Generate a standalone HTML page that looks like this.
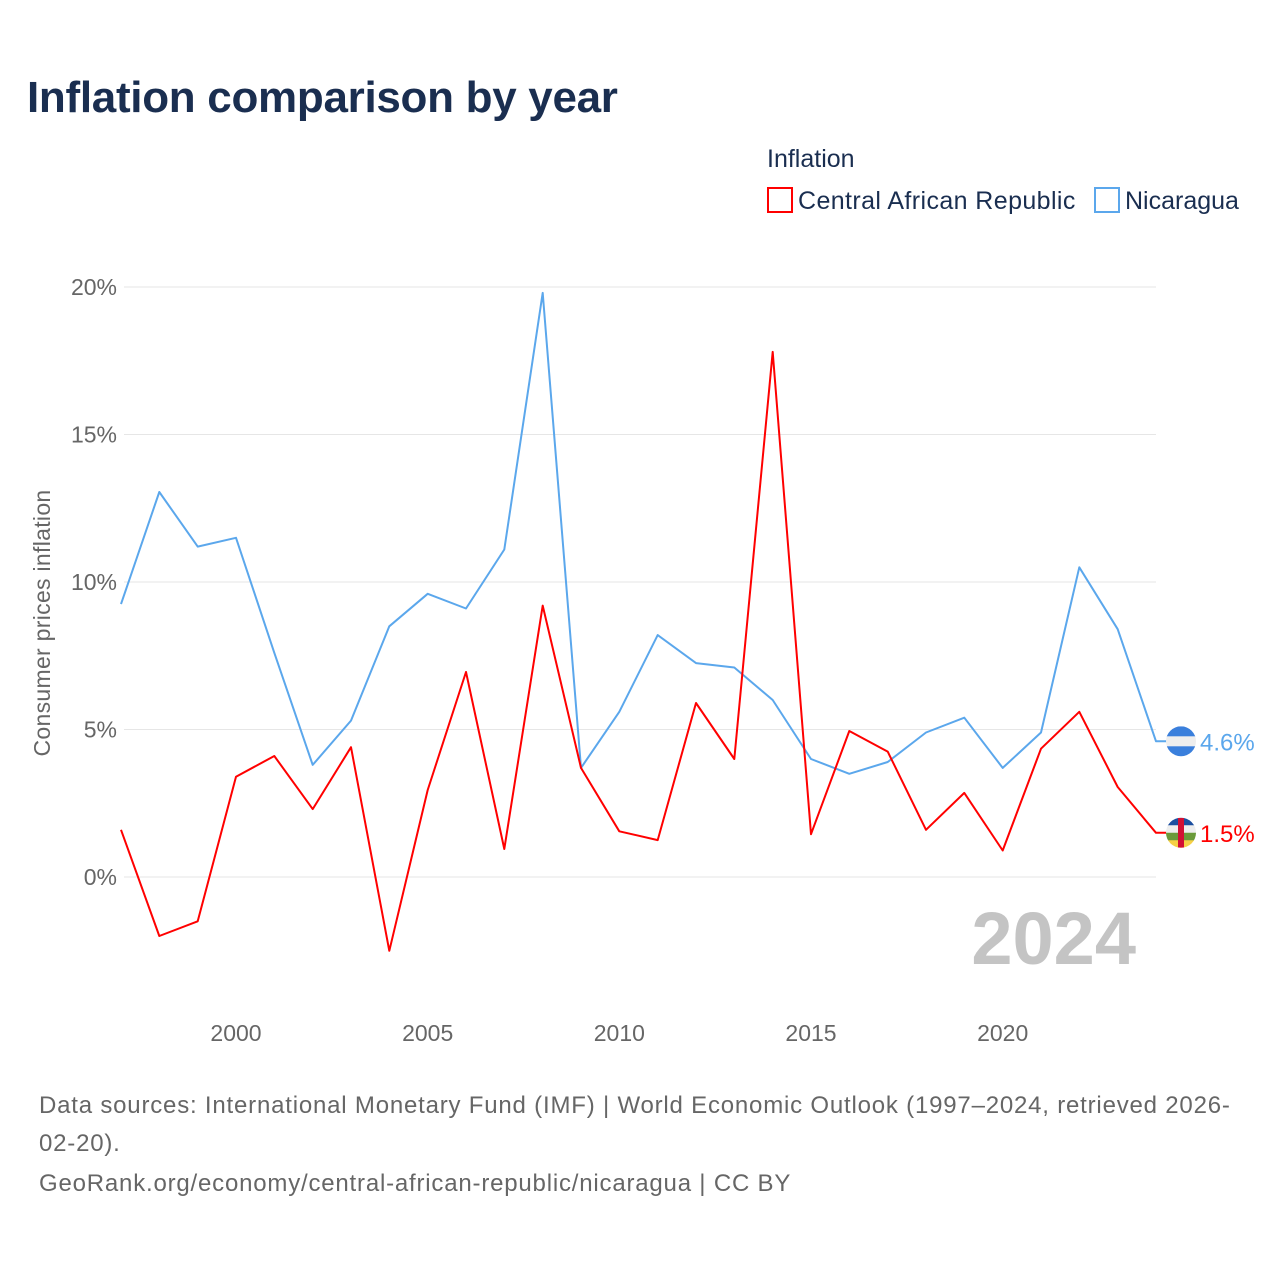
<!DOCTYPE html>
<html><head><meta charset="utf-8"><style>
body{margin:0;background:#fff;font-family:"Liberation Sans",sans-serif;}
svg text{font-family:"Liberation Sans",sans-serif;}
</style></head><body>
<svg width="1280" height="1280" viewBox="0 0 1280 1280">
<text x="27" y="112" font-size="44" font-weight="bold" fill="#1a2e50" letter-spacing="-0.3">Inflation comparison by year</text>
<text x="767" y="167" font-size="25" fill="#1a2e50">Inflation</text>
<g><rect x="768" y="188" width="24" height="24" fill="none" stroke="#f00" stroke-width="2"/><text x="798" y="209" font-size="25" fill="#1a2e50" letter-spacing="0.4">Central African Republic</text></g>
<g><rect x="1095" y="188" width="24" height="24" fill="none" stroke="#5ba7ec" stroke-width="2"/><text x="1125" y="209" font-size="25" fill="#1a2e50">Nicaragua</text></g>
<g id="grid"></g><g id="xt"></g><g id="lines"></g>
<text transform="translate(50,623) rotate(-90)" text-anchor="middle" font-size="23" fill="#666" letter-spacing="0.3">Consumer prices inflation</text>
<text x="1136" y="964" text-anchor="end" font-size="74" font-weight="bold" fill="#c4c4c4">2024</text>
<g font-size="24" fill="#666" letter-spacing="0.8">
<text x="39" y="1113">Data sources: International Monetary Fund (IMF) | World Economic Outlook (1997–2024, retrieved 2026-</text>
<text x="39" y="1151">02-20).</text>
<text x="39" y="1191">GeoRank.org/economy/central-african-republic/nicaragua | CC BY</text>
</g>
</svg>
<script>
const years=[1997,1998,1999,2000,2001,2002,2003,2004,2005,2006,2007,2008,2009,2010,2011,2012,2013,2014,2015,2016,2017,2018,2019,2020,2021,2022,2023,2024];
const nicaragua=[9.25,13.05,11.2,11.5,7.6,3.8,5.3,8.5,9.6,9.1,11.1,19.8,3.7,5.6,8.2,7.25,7.1,6.0,4.0,3.5,3.9,4.9,5.4,3.7,4.9,10.5,8.4,4.6];
const car=[1.6,-2.0,-1.5,3.4,4.1,2.3,4.4,-2.5,2.95,6.95,0.95,9.2,3.7,1.55,1.25,5.9,4.0,17.8,1.45,4.95,4.25,1.6,2.85,0.9,4.35,5.6,3.05,1.5];
const yTicks=[0,5,10,15,20];
const xTicks=[2000,2005,2010,2015,2020];
const NS="http://www.w3.org/2000/svg";
const X=y=>121+(y-1997)*(1156-121)/27;
const Y=v=>877-v*29.5;
function mk(t,a,p){const e=document.createElementNS(NS,t);for(const k in a)e.setAttribute(k,a[k]);p.appendChild(e);return e;}
const g=document.getElementById('grid');
yTicks.forEach(v=>{
 const l=mk('line',{x1:124,x2:1156,y1:Y(v),y2:Y(v),stroke:'#e6e6e6','stroke-width':1},g);
 
 
 const t=mk('text',{x:117,y:Y(v)+8,'text-anchor':'end','font-size':23,fill:'#666'},g);t.textContent=v+'%';
 
 
});
const xt=document.getElementById('xt');
xTicks.forEach(v=>{
 const t=mk('text',{x:X(v),y:1041,'text-anchor':'middle','font-size':23,fill:'#666'},xt);t.textContent=v;
 
 
});
const L=document.getElementById('lines');
function series(vals,col,name,label,flag){
 const d=vals.map((v,i)=>(i?'L':'M')+X(years[i]).toFixed(1)+' '+Y(v).toFixed(1)).join(' ')+' L1167 '+Y(vals[vals.length-1]).toFixed(1);
 const p=mk('path',{d:d,fill:'none',stroke:col,'stroke-width':2,'stroke-linejoin':'round'},L);
 
 
 const yy=Y(vals[vals.length-1]);
 const fg=mk('g',{},L);
 
 
 mk('clipPath',{id:'c'+name},fg).appendChild(document.createElementNS(NS,'circle'));
 const cc=fg.querySelector('circle');cc.setAttribute('cx',1181);cc.setAttribute('cy',yy);cc.setAttribute('r',15);
 const gg=mk('g',{'clip-path':'url(#c'+name+')'},fg);
 flag.forEach((c,i)=>mk('rect',{x:1166,y:yy-15+i*30/flag.length,width:30,height:30/flag.length+0.5,fill:c},gg));
 if(name==='car-line')mk('rect',{x:1178,y:yy-15,width:6,height:30,fill:'#d21034'},gg);
 const t=mk('text',{x:1200,y:yy+9,'font-size':24,fill:col},L);t.textContent=label;
 
 
}
series(nicaragua,'#5ba7ec','nicaragua-line',nicaragua[nicaragua.length-1]+'%',['#3a7fdc','#eeeeee','#3a7fdc']);
series(car,'#ff0000','car-line',car[car.length-1]+'%',['#1b4fa0','#eeeeee','#6a9a3a','#f6d046']);
</script>
</body></html>
